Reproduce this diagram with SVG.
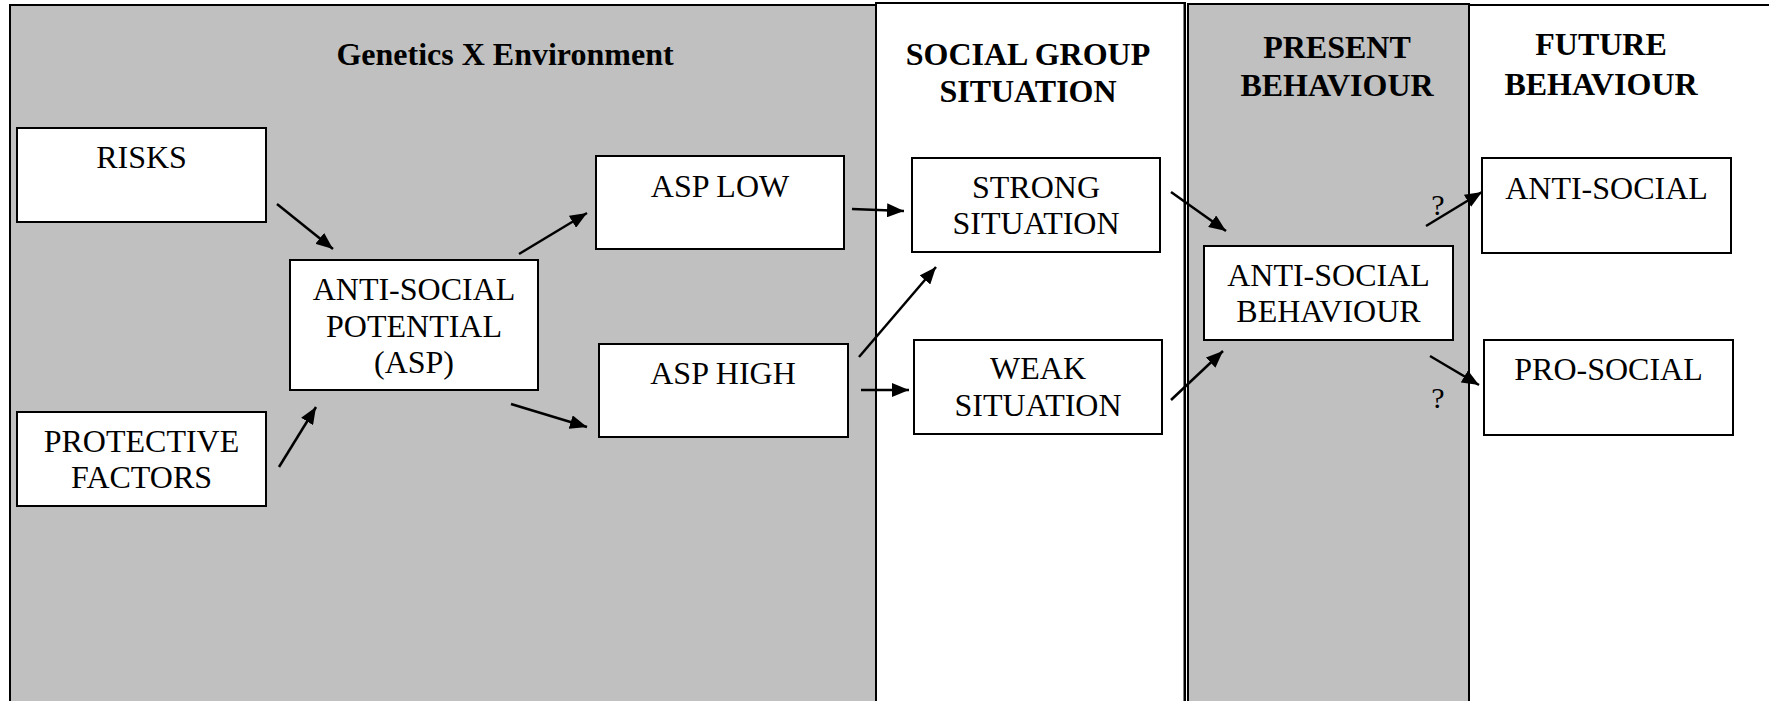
<svg xmlns="http://www.w3.org/2000/svg" width="1769" height="701" viewBox="0 0 1769 701">
<style>
.panel-g{fill:#c0c0c0;stroke:#000;stroke-width:2}
.panel-w{fill:#fff;stroke:#000;stroke-width:2}
.box{fill:#fff;stroke:#000;stroke-width:2}
.t{font-family:"Liberation Serif","Times New Roman",serif;font-size:32px;fill:#000;text-anchor:middle}
.h{font-family:"Liberation Serif","Times New Roman",serif;font-size:32px;font-weight:bold;fill:#000;text-anchor:middle}
.q{font-family:"Liberation Serif","Times New Roman",serif;font-size:30px;fill:#000;text-anchor:middle}
.arr{stroke:#000;stroke-width:2.5;fill:none;marker-end:url(#ah)}
</style>
<defs>
<marker id="ah" markerUnits="userSpaceOnUse" markerWidth="18" markerHeight="14" refX="17" refY="7" orient="auto">
<path d="M0,0 L17,7 L0,14 z" fill="#000"/>
</marker>
</defs>
<rect width="1769" height="701" fill="#fff"/>
<g id="panels">
<rect class="panel-g" x="10" y="5" width="866" height="720"/>
<rect class="panel-w" x="876" y="3" width="309" height="720"/>
<rect class="panel-g" x="1188" y="4" width="281" height="720"/>
<line x1="1184.5" y1="4" x2="1184.5" y2="701" stroke="#000" stroke-width="2"/>
<rect class="panel-w" x="1469" y="5" width="320" height="720"/>
<text class="h" x="505" y="65">Genetics X Environment</text>
<text class="h" x="1028" y="65">SOCIAL GROUP</text>
<text class="h" x="1028" y="102">SITUATION</text>
<text class="h" x="1337" y="58">PRESENT</text>
<text class="h" x="1337" y="96">BEHAVIOUR</text>
<text class="h" x="1601" y="55">FUTURE</text>
<text class="h" x="1601" y="95">BEHAVIOUR</text>
</g>
<g id="risks"><rect class="box" x="17" y="128" width="249" height="94"/><text class="t" x="141.5" y="168">RISKS</text></g>
<g id="protective"><rect class="box" x="17" y="412" width="249" height="94"/><text class="t" x="141.5" y="452">PROTECTIVE</text><text class="t" x="141.5" y="488">FACTORS</text></g>
<g id="asp"><rect class="box" x="290" y="260" width="248" height="130"/><text class="t" x="414" y="300">ANTI-SOCIAL</text><text class="t" x="414" y="337">POTENTIAL</text><text class="t" x="414" y="373">(ASP)</text></g>
<g id="asp-low"><rect class="box" x="596" y="156" width="248" height="93"/><text class="t" x="720" y="197">ASP LOW</text></g>
<g id="asp-high"><rect class="box" x="599" y="344" width="249" height="93"/><text class="t" x="723" y="384">ASP HIGH</text></g>
<g id="strong"><rect class="box" x="912" y="158" width="248" height="94"/><text class="t" x="1036" y="198">STRONG</text><text class="t" x="1036" y="234">SITUATION</text></g>
<g id="weak"><rect class="box" x="914" y="340" width="248" height="94"/><text class="t" x="1038" y="379">WEAK</text><text class="t" x="1038" y="416">SITUATION</text></g>
<g id="asb"><rect class="box" x="1204" y="246" width="249" height="94"/><text class="t" x="1328.5" y="286">ANTI-SOCIAL</text><text class="t" x="1328.5" y="322">BEHAVIOUR</text></g>
<g id="anti-social"><rect class="box" x="1482" y="158" width="249" height="95"/><text class="t" x="1606.5" y="199">ANTI-SOCIAL</text></g>
<g id="pro-social"><rect class="box" x="1484" y="340" width="249" height="95"/><text class="t" x="1608.5" y="380">PRO-SOCIAL</text></g>
<g id="connectors">
<line class="arr" x1="277" y1="204" x2="333" y2="249"/>
<line class="arr" x1="279" y1="467" x2="316" y2="407"/>
<line class="arr" x1="519" y1="254" x2="587" y2="213"/>
<line class="arr" x1="511" y1="404" x2="587" y2="427"/>
<line class="arr" x1="852" y1="209" x2="904" y2="211"/>
<line class="arr" x1="859" y1="357" x2="936" y2="267"/>
<line class="arr" x1="861" y1="390" x2="909" y2="390"/>
<line class="arr" x1="1171" y1="192" x2="1226" y2="231"/>
<line class="arr" x1="1171" y1="400" x2="1223" y2="351"/>
<line class="arr" x1="1426" y1="226" x2="1482" y2="192"/>
<line class="arr" x1="1430" y1="356" x2="1479" y2="385"/>
<text class="q" x="1438" y="215">?</text>
<text class="q" x="1438" y="408">?</text>
</g>
</svg>
